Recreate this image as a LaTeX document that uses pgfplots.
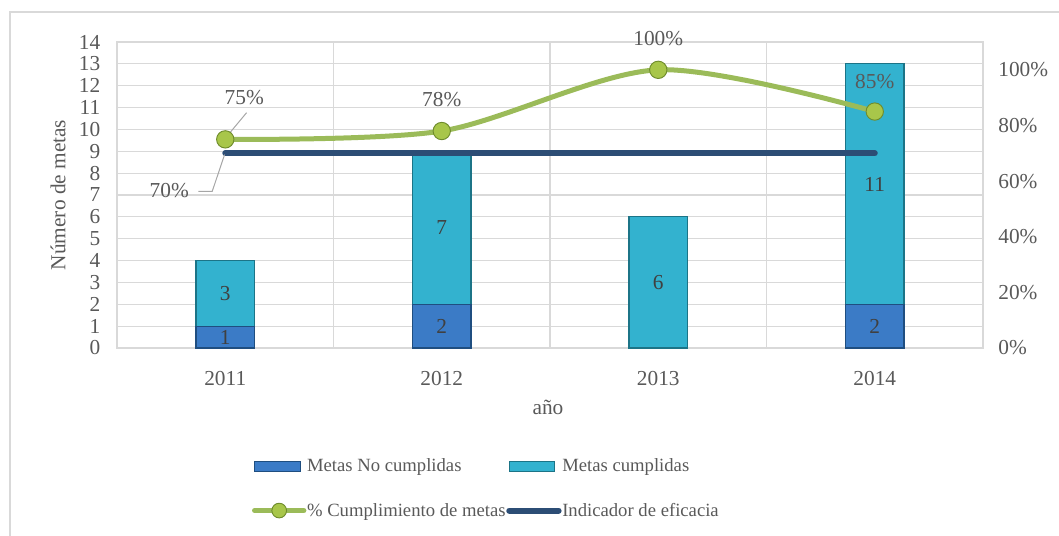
\documentclass[border=0pt]{standalone}
\usepackage{pgfplots}
\pgfplotsset{compat=1.18}
\usepackage{fontspec}
\setmainfont{Liberation Serif}
\definecolor{txt}{HTML}{595959}
\definecolor{lbl}{HTML}{404040}
\definecolor{grd}{HTML}{D9D9D9}
\definecolor{barblue}{HTML}{3B7BC6}
\definecolor{barblueedge}{HTML}{1F4E80}
\definecolor{barcyan}{HTML}{33B2CF}
\definecolor{barcyanedge}{HTML}{1C7487}
\definecolor{lgreen}{HTML}{9BBB59}
\definecolor{ballfill}{HTML}{A8C64A}
\definecolor{balledge}{HTML}{6F8C2C}
\definecolor{ldark}{HTML}{2C4D75}
\definecolor{lead}{HTML}{A6A6A6}
\pgfplotsset{
  panel/.style={at={(87.75pt,140.25pt)},anchor=south west,
    scale only axis,width=649.5pt,height=229.5pt,
    xmin=-0.5,xmax=3.5,clip=false},
}

\begin{document}
\begin{tikzpicture}[font=\fontsize{14}{16}\selectfont]
\useasboundingbox (0,0) rectangle (794.25pt,401.25pt);
% chart frame (cut at right and bottom as in the reference)
\draw[grd,line width=0.8pt] (7.5pt,-5pt) -- (7.5pt,392.25pt) -- (800pt,392.25pt);

% ---- bars on left axis ----
\begin{axis}[panel,
  ymin=0, ymax=14,
  ybar stacked, bar width=0.27,
  xtick={0,1,2,3}, xticklabels={2011,2012,2013,2014},
  extra x ticks={0.5,1.5,2.5}, extra x tick labels={},
  extra x tick style={grid=major},
  ytick={0,1,...,14}, ymajorgrids,
  major grid style={grd,line width=0.9pt},
  axis line style={grd,line width=0.9pt},
  major tick length=0pt,
  tick label style={text=txt,font=\fontsize{16}{18}\selectfont},
  /pgf/number format/assume math mode=true,
  yticklabel style={xshift=-9pt},
  xticklabel style={yshift=-14pt},
]
\addplot[fill=barblue,draw=barblueedge,line width=0.8pt]
  coordinates {(0,1) (1,2) (2,0) (3,2)};
\addplot[fill=barcyan,draw=barcyanedge,line width=0.8pt]
  coordinates {(0,3) (1,7) (2,6) (3,11)};
\end{axis}

% ---- segment labels, centred in each bar part ----
\begin{axis}[panel, ymin=0, ymax=14, hide axis]
\addplot[only marks, mark=none, point meta=explicit symbolic,
  nodes near coords,
  nodes near coords style={anchor=center,text=lbl,font=\fontsize{16}{18}\selectfont}]
  coordinates {(0,0.5)[1] (0,2.5)[3] (1,1)[2] (1,5.5)[7] (2,3)[6] (3,1)[2] (3,7.5)[11]};
\end{axis}

% ---- lines on right axis ----
\begin{axis}[panel,
  ymin=0, ymax=1.1,
  axis x line=none, axis y line*=right, axis line style={draw=none},
  ytick={0,0.2,0.4,0.6,0.8,1},
  yticklabels={0\%,20\%,40\%,60\%,80\%,100\%},
  major tick length=0pt,
  yticklabel style={xshift=8pt,text=txt,font=\fontsize{16}{18}\selectfont},
  legend columns=2,
  legend cell align=left,
  legend style={at={(0.151,-0.35)},anchor=north west,draw=none,fill=none,
    text=txt,row sep=21pt,nodes={inner sep=0.5pt},
    /tikz/every even column/.append style={column sep=0pt}},
]
\addlegendimage{legend image code/.code={%
  \draw[fill=barblue,draw=barblueedge] (0pt,-4pt) rectangle (34pt,4pt);}}
\addlegendentry{Metas No cumplidas}
\addlegendimage{legend image code/.code={%
  \draw[fill=barcyan,draw=barcyanedge] (0pt,-4pt) rectangle (34pt,4pt);}}
\addlegendentry{Metas cumplidas}

\addplot[ldark,line width=4.5pt,line cap=round,forget plot]
  coordinates {(0,0.70) (3,0.70)};
\addplot[lgreen,line width=3.75pt,line cap=round,smooth,
  mark=*,mark size=6.5pt,
  mark options={fill=ballfill,draw=balledge,line width=0.7pt},
  legend image code/.code={%
    \draw[lgreen,line width=3.75pt,line cap=round] (0pt,0pt) -- (37pt,0pt);
    \draw[fill=ballfill,draw=balledge,line width=0.7pt] (18.5pt,0pt) circle (5.5pt);}]
  coordinates {(0,0.75) (1,0.78) (2,1.00) (3,0.85)};
\addlegendentry{\% Cumplimiento de metas}
\addlegendimage{legend image code/.code={%
  \draw[ldark,line width=4.5pt,line cap=round] (0pt,0pt) -- (37pt,0pt);}}
\addlegendentry{Indicador de eficacia}

% data labels of the lines
\begin{scope}[every node/.style={text=txt,font=\fontsize{16}{18}\selectfont}]
\node[xshift=14.25pt,yshift=31.5pt] at (axis cs:0,0.75) {75\%};
\node[yshift=23.25pt] at (axis cs:1,0.78) {78\%};
\node[yshift=23.25pt] at (axis cs:2,1.00) {100\%};
\node[yshift=22.5pt] at (axis cs:3,0.85) {85\%};
\node[xshift=-42pt,yshift=-27.75pt] at (axis cs:0,0.70) {70\%};
\end{scope}
\draw[lead,line width=0.75pt] (axis cs:0,0.75) ++(1pt,2pt) -- ++(15pt,18pt);
\draw[lead,line width=0.75pt] (axis cs:0,0.70) ++(-0.5pt,-1pt)
  -- ++(-9.25pt,-27.5pt) -- ++(-10.5pt,0pt);
\end{axis}

% axis titles
\node[text=txt,rotate=90,font=\fontsize{16}{18}\selectfont] at (43.5pt,255pt) {Número de metas};
\node[text=txt,font=\fontsize{16}{18}\selectfont] at (411pt,96pt) {año};
\end{tikzpicture}
\end{document}
